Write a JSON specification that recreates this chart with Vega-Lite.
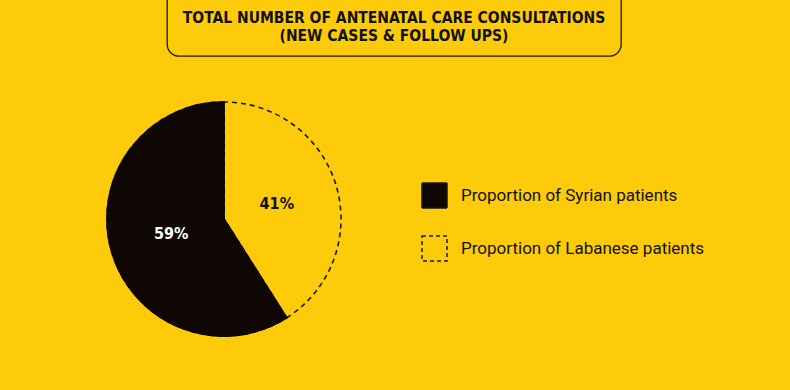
{
  "$schema": "https://vega.github.io/schema/vega-lite/v6.json",
  "background": "#FECB0A",
  "padding": {"left": 0, "top": -12, "right": 0, "bottom": 0},
  "config": {"view": {"stroke": null}},
  "datasets": {
    "shares": [
      {"category": "Proportion of Labanese patients", "share": 41, "label": "41%", "rank": 1},
      {"category": "Proportion of Syrian patients", "share": 59, "label": "59%", "rank": 2}
    ],
    "titleLines": [
      {"row": 1, "line": "TOTAL NUMBER OF ANTENATAL CARE CONSULTATIONS"},
      {"row": 2, "line": "(NEW CASES & FOLLOW UPS)"}
    ]
  },
  "spacing": 41,
  "vconcat": [
    {
      "spacing": 0,
      "hconcat": [
        {"width": 166, "height": 10, "data": {"values": []}, "mark": "text", "encoding": {}},
        {
          "width": 454,
          "height": 67,
          "view": {"stroke": "#1a1a1a", "strokeWidth": 1.3, "cornerRadius": 12, "fill": null},
          "data": {"name": "titleLines"},
          "mark": {"type": "text", "font": "DejaVu Sans Condensed", "fontWeight": "bold", "fontSize": 15.5, "color": "#111111", "baseline": "middle"},
          "encoding": {
            "y": {"field": "row", "type": "ordinal", "axis": null, "scale": {"range": [29, 47], "padding": 0}},
            "text": {"field": "line"}
          }
        },
        {"width": 170, "height": 10, "data": {"values": []}, "mark": "text", "encoding": {}}
      ]
    },
    {
      "spacing": 0,
      "hconcat": [
        {"width": 103, "height": 294, "data": {"values": []}, "mark": "text", "encoding": {}},
        {
          "width": 234,
          "height": 234,
          "data": {"name": "shares"},
          "encoding": {
            "theta": {"field": "share", "type": "quantitative", "stack": true},
            "order": {"field": "rank", "type": "quantitative"},
            "detail": {"field": "category"}
          },
          "layer": [
            {
              "mark": {"type": "arc", "radius": 117, "fill": "#FECB0A", "stroke": "#1a1a1a", "strokeWidth": 1.6, "strokeDash": [5, 4]}
            },
            {
              "mark": {"type": "arc", "radius": 117, "strokeWidth": 1.8},
              "encoding": {
                "color": {
                  "field": "category",
                  "type": "nominal",
                  "scale": {
                    "domain": ["Proportion of Syrian patients", "Proportion of Labanese patients"],
                    "range": ["#0E0704", "rgba(0,0,0,0)"]
                  },
                  "legend": {
                    "title": null,
                    "orient": "none",
                    "legendX": 421,
                    "legendY": 193,
                    "padding": 0,
                    "symbolType": "square",
                    "symbolSize": 625,
                    "symbolStrokeWidth": 1.5,
                    "symbolStrokeColor": "#1a1a1a",
                    "labelFont": "Roboto",
                    "labelFontSize": 17,
                    "labelColor": "#111111",
                    "labelOffset": 13,
                    "rowPadding": 22,
                    "labelLimit": 400,
                    "encode": {
                      "symbols": {
                        "update": {
                          "stroke": {"value": "#1a1a1a"},
                          "strokeWidth": {"value": 1.5},
                          "strokeDash": {"signal": "indexof(datum.value, 'Labanese') >= 0 ? [4, 3] : [1, 0]"}
                        }
                      }
                    }
                  }
                },
                "stroke": {
                  "condition": {"test": "datum.category === 'Proportion of Syrian patients'", "value": "#0E0704"},
                  "value": null
                }
              }
            },
            {
              "mark": {"type": "text", "radius": 55, "font": "DejaVu Sans Condensed", "fontWeight": "bold", "fontSize": 16},
              "encoding": {
                "text": {"field": "label"},
                "fill": {
                  "condition": {"test": "datum.category === 'Proportion of Syrian patients'", "value": "#ffffff"},
                  "value": "#111111"
                }
              }
            }
          ]
        },
        {"width": 453, "height": 294, "data": {"values": []}, "mark": "text", "encoding": {}}
      ]
    }
  ]
}
